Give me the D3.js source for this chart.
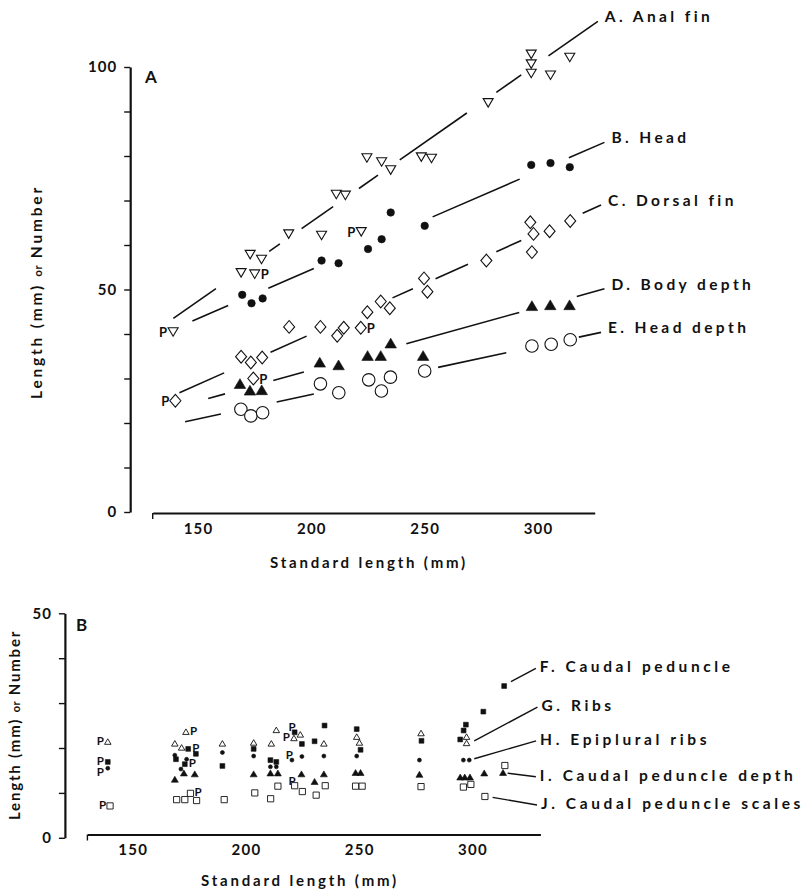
<!DOCTYPE html>
<html>
<head>
<meta charset="utf-8">
<script src="https://cdn.jsdelivr.net/npm/d3@7"></script>
<style>
  body { margin: 0; background: #fff; }
  text { font-family: Lato, "DejaVu Sans", sans-serif; font-weight: bold; fill: #111; }
</style>
</head>
<body>
<svg id="chart" width="811" height="893"></svg>
<script>
// ---- panel A : body measurements vs standard length (mm)
var analX = [139, 169, 175, 173, 178, 190, 204.5, 211, 215, 222, 224.5, 231, 235, 248.5, 253, 278, 297, 297, 297, 305.5, 314]
var analY = [40.5, 53.8, 53.5, 57.9, 56.8, 62.5, 62.2, 71.4, 71.2, 63.0, 79.6, 78.7, 76.9, 79.8, 79.5, 92.0, 98.6, 100.7, 102.9, 98.2, 102.2]

var headX = [169.5, 173.6, 178.5, 204.5, 212, 225, 231, 235, 250, 297, 305.5, 314]
var headY = [48.8, 46.9, 48.0, 56.5, 55.9, 59.1, 61.3, 67.3, 64.3, 78.0, 78.4, 77.5]

var dorsalX = [140, 169, 173.3, 178.3, 174.4, 190.2, 204, 211.4, 214.3, 221.8, 224.7, 230.6, 234.6, 249.7, 251.2, 277.2, 296.6, 298, 297.3, 305.1, 314.2]
var dorsalY = [25.0, 34.9, 33.6, 34.7, 30.0, 41.6, 41.6, 39.6, 41.4, 41.4, 44.9, 47.3, 45.8, 52.5, 49.5, 56.5, 65.1, 62.5, 58.4, 63.1, 65.4]

var bodyX = [168.5, 172.9, 178.1, 203.7, 212, 224.8, 230.6, 235, 249.3, 297.3, 305.4, 313.9]
var bodyY = [28.8, 27.3, 27.4, 33.6, 33.0, 35.1, 35.1, 37.9, 35.1, 46.3, 46.5, 46.5]

var hdepthX = [168.9, 173.3, 178.5, 204, 212.1, 225.3, 230.9, 234.9, 250, 297.3, 305.8, 314.2]
var hdepthY = [23.1, 21.6, 22.3, 28.8, 26.8, 29.7, 27.2, 30.3, 31.7, 37.3, 37.7, 38.7]

// fitted lines: slope, intercept and the pieces that are drawn (x ranges)
var analFit = [0.3564, -6.07], analSegs = [[139.1, 157.9], [181.4, 186.1], [195.7, 209.6], [221, 229.4], [239, 268.6], [281.6, 292.6], [304.6, 326.4]]
var headFit = [0.2209, 10.32], headSegs = [[147.5, 163.3], [181, 201.1], [253.5, 291.9], [313.6, 329.3]]
var dorsalFit = [0.2268, -5.36], dorsalSegs = [[141.8, 161.5], [182, 197.9], [235.8, 244.8], [254.8, 269.1], [281.6, 292.6], [319.7, 327.8]]
var bodyFit = [0.141, 3.72], bodySegs = [[154.5, 161.9], [183.2, 196.7], [241.9, 291.7], [317.1, 329.3]]
var hdepthFit = [0.1094, 4.51], hdepthSegs = [[144.3, 160.1], [184.7, 201.1], [255.9, 286], [318, 327.8]]

var labelsA = ['A. Anal fin', 'B. Head', 'C. Dorsal fin', 'D. Body depth', 'E. Head depth']

// "P" marks in panel A
var pAX = [139, 175, 222, 140, 174.4, 221.8]
var pAY = [40.5, 53.5, 63.0, 25.0, 30.0, 41.4]
var pASide = ['L', 'R', 'L', 'L', 'R', 'R']

// ---- panel B : meristics / caudal peduncle
var pedX = [139, 174.5, 177.9, 169.1, 173, 189.6, 203.4, 210.8, 213.4, 221.5, 224.7, 230.3, 234.7, 248.9, 250.6, 277.5, 297.1, 296.1, 294.6, 304.8, 314]
var pedY = [16.9, 19.8, 18.7, 17.5, 16.4, 16.0, 19.8, 17.3, 16.9, 23.5, 20.9, 21.5, 25.0, 24.2, 19.6, 21.6, 25.2, 23.9, 21.9, 28.1, 33.8]

var ribsX = [139, 168.6, 171.6, 173.5, 189.6, 203.4, 211.2, 213.4, 224, 221.2, 234.4, 248.9, 250.1, 277.3, 297.4, 297.4]
var ribsY = [21.4, 21.0, 20.1, 23.6, 21.0, 21.2, 21.0, 24.0, 23.0, 22.2, 21.0, 22.5, 21.2, 23.3, 22.5, 21.1]

var epiX = [139, 168.6, 173.8, 171.3, 189.6, 203.4, 210.8, 213.4, 220.3, 224.7, 234.4, 248.9, 276.6, 296, 298.6]
var epiY = [15.5, 18.4, 17.5, 15.3, 19.0, 18.2, 15.8, 15.8, 17.3, 18.1, 18.2, 18.2, 17.3, 17.3, 17.3]

var cdepthX = [168.6, 172.6, 177.4, 203.4, 210.8, 214.1, 224.5, 230.3, 234.4, 248.4, 250.6, 276.6, 294.6, 296.6, 298.9, 305.2, 313.5]
var cdepthY = [13.0, 14.4, 14.2, 14.2, 14.4, 14.4, 14.2, 12.5, 14.2, 14.5, 14.5, 14.1, 13.5, 13.5, 13.5, 14.4, 14.5]

var scalesX = [140, 175.5, 169.4, 173, 178.2, 190.4, 203.9, 214.1, 210.9, 221.5, 224.9, 231, 235, 248.4, 251.3, 277.3, 296, 299.3, 305.5, 314.3]
var scalesY = [7.1, 9.9, 8.5, 8.5, 8.3, 8.5, 10.0, 11.5, 8.7, 11.6, 10.3, 9.5, 11.6, 11.5, 11.5, 11.4, 11.3, 11.9, 9.2, 16.1]

var labelsB = ['F. Caudal peduncle', 'G. Ribs', 'H. Epiplural ribs', 'I. Caudal peduncle depth', 'J. Caudal peduncle scales']
// leader lines [x0, y0, x1, y1] in data units
var leadersB = [[317, 34.8, 328, 37.75], [300.8, 21.6, 328.7, 29.1], [300.8, 17.6, 328.1, 21.6], [315.5, 14.4, 328, 13.6], [308.9, 9.0, 328.5, 7.3]]

var pBX = [139, 139, 139, 140, 173.5, 174.5, 173, 175.5, 221.5, 221.2, 220.3, 221.5]
var pBY = [21.4, 16.9, 15.5, 7.1, 23.6, 19.8, 16.4, 9.9, 23.5, 22.2, 17.3, 11.6]
var pBSide = ['L', 'L', 'D', 'L', 'R', 'R', 'R', 'R', 'U', 'L', 'U', 'U']

var svg = d3.select('#chart')

// custom marker shapes (size = width in px)
function tri(down) {
    return { draw: function(ctx, size) {
        var r = size / 2, s = down ? 1 : -1
        ctx.moveTo(-r, -s * r * 0.8)
        ctx.lineTo(r, -s * r * 0.8)
        ctx.lineTo(0, s * r * 0.9)
        ctx.closePath()
    } }
}
var diamond = { draw: function(ctx, size) {
    var w = size / 2, h = size * 0.58
    ctx.moveTo(0, -h); ctx.lineTo(w, 0); ctx.lineTo(0, h); ctx.lineTo(-w, 0); ctx.closePath()
} }
var square = { draw: function(ctx, size) { var r = size / 2; ctx.rect(-r, -r, size, size) } }
var circle = { draw: function(ctx, size) { var r = size / 2; ctx.moveTo(r, 0); ctx.arc(0, 0, r, 0, 2 * Math.PI) } }

function points(g, x, y, xs, ys, type, size, filled, sw) {
    var sym = d3.symbol().type(type).size(size)
    g.selectAll(null)
        .data(xs.map(function(d, i) { return [d, ys[i]] }))
        .enter()
        .append('path')
        .attr('transform', function(d) { return 'translate(' + x(d[0]) + ',' + y(d[1]) + ')' })
        .attr('d', sym)
        .attr('fill', filled ? '#111' : '#fff')
        .attr('stroke', '#111')
        .attr('stroke-width', filled ? 0.6 : sw)
}

// P = specimen marks; L left, D left and lower, R right, U up-left of the point
function pMarks(g, x, y, xs, ys, sides, fs, gap, lift) {
    g.selectAll(null)
        .data(xs.map(function(d, i) { return [d, ys[i], sides[i]] }))
        .enter()
        .append('text')
        .attr('x', function(d) { return x(d[0]) + (d[2] == 'R' ? gap : d[2] == 'U' ? 1 : -gap) })
        .attr('y', function(d) { return y(d[1]) + (d[2] == 'U' ? -1 : d[2] == 'D' ? lift + 5 : lift) })
        .attr('text-anchor', function(d) { return d[2] == 'R' ? 'start' : 'end' })
        .style('font-size', fs + 'px')
        .text('P')
}

function axes(g, x, y, yTicks, xAxisY) {
    var ya = g.append('g')
        .attr('transform', 'translate(' + (x.range()[0] - 22.5) + ',0)')
        .call(d3.axisLeft(y).tickValues(yTicks).tickSize(6).tickSizeOuter(0).tickPadding(7)
            .tickFormat(function(d) { return d % 50 == 0 ? d : '' }))
    ya.select('.domain').attr('stroke', '#111').attr('stroke-width', 2.2)
    ya.selectAll('.tick line').attr('stroke', '#111').attr('stroke-width', 1.4)
    ya.selectAll('.tick text').style('font-size', '15px').style('font-family', 'Lato, sans-serif')
        .style('letter-spacing', '1px').attr('fill', '#111')

    var xa = g.append('g')
        .attr('transform', 'translate(0,' + xAxisY + ')')
        .call(d3.axisBottom(x).tickValues([150, 200, 250, 300]).tickSize(0).tickSizeOuter(0).tickPadding(10))
    xa.select('.domain').attr('stroke', '#111').attr('stroke-width', 2.2)
    xa.selectAll('.tick text').style('font-size', '15px').style('font-family', 'Lato, sans-serif')
        .style('letter-spacing', '1.2px').attr('fill', '#111')
    xa.append('line')
        .attr('x1', x.range()[0]).attr('x2', x.range()[0])
        .attr('y1', 0).attr('y2', 6)
        .attr('stroke', '#111').attr('stroke-width', 1.4)
}

function yTitle(g, cx, cy, fs, ls) {
    var t = g.append('text')
        .attr('transform', 'translate(' + cx + ',' + cy + ') rotate(-90)')
        .attr('text-anchor', 'middle')
        .style('font-size', fs + 'px')
        .style('letter-spacing', ls + 'px')
    t.append('tspan').text('Length (mm) ')
    t.append('tspan').style('font-size', '11px').style('letter-spacing', '0.6px').text('or')
    t.append('tspan').text(' Number')
}

function xTitle(g, cx, cy) {
    g.append('text')
        .attr('x', cx).attr('y', cy)
        .attr('text-anchor', 'middle')
        .style('font-size', '15px')
        .style('letter-spacing', '2.8px')
        .text('Standard length (mm)')
}

// ================= panel A
var xA = d3.scaleLinear().domain([130, 325]).range([152.7, 594.7])
var yA = d3.scaleLinear().domain([0, 100]).range([512, 67])
var gA = svg.append('g')

axes(gA, xA, yA, d3.range(0, 101, 10), yA(0) + 1)
xTitle(gA, 369, 568)
yTitle(gA, 42, 292, 15.5, 2.8)
gA.append('text').attr('x', 145).attr('y', 83).style('font-size', '17px').text('A')

var fitsA = [[analFit, analSegs], [headFit, headSegs], [dorsalFit, dorsalSegs], [bodyFit, bodySegs], [hdepthFit, hdepthSegs]]
fitsA.forEach(function(f, k) {
    var m = f[0][0], b = f[0][1]
    gA.selectAll(null)
        .data(f[1])
        .enter()
        .append('line')
        .attr('x1', function(s) { return xA(s[0]) })
        .attr('x2', function(s) { return xA(s[1]) })
        .attr('y1', function(s) { return yA(m * s[0] + b) })
        .attr('y2', function(s) { return yA(m * s[1] + b) })
        .attr('stroke', '#111')
        .attr('stroke-width', 1.6)
    var last = f[1][f[1].length - 1][1]
    gA.append('text')
        .attr('x', xA(last) + 7)
        .attr('y', yA(m * last + b) + 1)
        .style('font-size', '15.5px')
        .style('letter-spacing', '3.4px')
        .text(labelsA[k])
})

points(gA, xA, yA, analX, analY, tri(true), 10, false, 1.1)
points(gA, xA, yA, headX, headY, circle, 7.5, true)
points(gA, xA, yA, dorsalX, dorsalY, diamond, 11, false, 1.1)
points(gA, xA, yA, bodyX, bodyY, tri(false), 11.5, true)
points(gA, xA, yA, hdepthX, hdepthY, circle, 12.5, false, 1.1)
pMarks(gA, xA, yA, pAX, pAY, pASide, 13, 6, 5)

// ================= panel B
var xB = d3.scaleLinear().domain([130, 330]).range([87.4, 540.4])
var yB = d3.scaleLinear().domain([0, 50]).range([837.8, 613.3])
var gB = svg.append('g')

axes(gB, xB, yB, d3.range(0, 51, 10), 834.5)
xTitle(gB, 300, 886)
yTitle(gB, 20, 725, 15, 1.8)
gB.append('text').attr('x', 76).attr('y', 631).style('font-size', '17px').text('B')

gB.selectAll(null)
    .data(leadersB)
    .enter()
    .append('line')
    .attr('x1', function(d) { return xB(d[0]) })
    .attr('y1', function(d) { return yB(d[1]) })
    .attr('x2', function(d) { return xB(d[2]) })
    .attr('y2', function(d) { return yB(d[3]) })
    .attr('stroke', '#111')
    .attr('stroke-width', 1.4)

gB.selectAll(null)
    .data(leadersB)
    .enter()
    .append('text')
    .attr('x', function(d) { return xB(d[2]) + 4 })
    .attr('y', function(d) { return yB(d[3]) + 4 })
    .style('font-size', '15.5px')
    .style('letter-spacing', '3.6px')
    .text(function(d, i) { return labelsB[i] })

points(gB, xB, yB, pedX, pedY, square, 4.8, true)
points(gB, xB, yB, ribsX, ribsY, tri(false), 6.5, false, 0.9)
points(gB, xB, yB, epiX, epiY, circle, 4, true)
points(gB, xB, yB, cdepthX, cdepthY, tri(false), 7, true)
points(gB, xB, yB, scalesX, scalesY, square, 6.2, false, 0.9)
pMarks(gB, xB, yB, pBX, pBY, pBSide, 11.5, 4, 3)
</script>
</body>
</html>
